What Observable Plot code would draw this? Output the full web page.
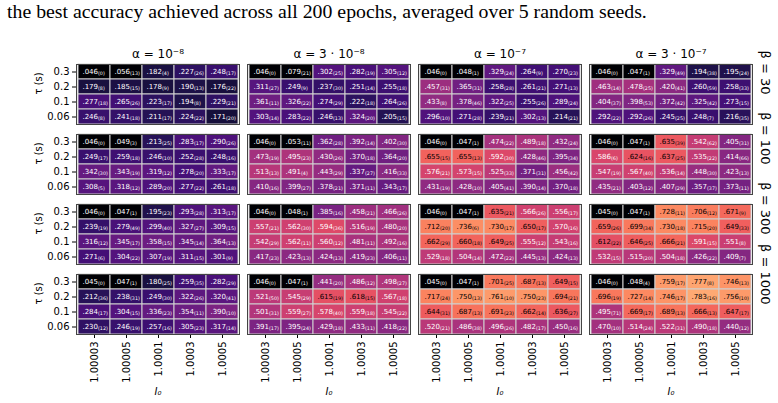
<!DOCTYPE html>
<html>
<head>
<meta charset="utf-8">
<script src="https://cdn.jsdelivr.net/npm/d3@7"></script>
<script src="https://cdn.jsdelivr.net/npm/@observablehq/plot@0.6"></script>
<style>
  body { margin: 0; background: #fff; }
  #caption {
    font-family: "Liberation Serif", "Times New Roman", serif;
    font-size: 18px;
    height: 24px;
    line-height: 22px;
    padding-left: 7px;
    white-space: nowrap;
    color: #000;
  }
</style>
</head>
<body>
<div id="caption"><span id="captionText">the best accuracy achieved across all 200 epochs, averaged over 5 random seeds.</span></div>
<div id="chart"></div>
<script>
// Grid axes
const alphas = ["1e-8", "3e-8", "1e-7", "3e-7"];
const alphaLabels = ["α = 10⁻⁸", "α = 3 · 10⁻⁸", "α = 10⁻⁷", "α = 3 · 10⁻⁷"];
const betas = [30, 100, 300, 1000];
const taus = [0.3, 0.2, 0.1, 0.06];
const I0s = ["1.00003", "1.00005", "1.0001", "1.0003", "1.0005"];

// Mean best accuracy, indexed [alpha][tau][I0], one array per beta
const meanB30 = [
  [[.046, .056, .182, .227, .248], [.179, .185, .178, .190, .176], [.277, .265, .223, .194, .229], [.246, .241, .211, .224, .171]],
  [[.046, .079, .302, .282, .305], [.311, .249, .237, .251, .255], [.361, .326, .274, .222, .264], [.303, .283, .246, .324, .205]],
  [[.046, .048, .329, .264, .270], [.457, .365, .258, .261, .271], [.433, .378, .322, .255, .289], [.296, .271, .239, .302, .214]],
  [[.046, .047, .329, .194, .195], [.463, .478, .420, .260, .258], [.404, .398, .372, .325, .273], [.292, .292, .245, .248, .216]]
];
const meanB100 = [
  [[.046, .049, .213, .283, .290], [.249, .259, .246, .252, .248], [.342, .343, .319, .278, .333], [.308, .318, .289, .277, .261]],
  [[.046, .053, .362, .392, .402], [.473, .495, .430, .370, .364], [.513, .491, .443, .337, .416], [.410, .399, .378, .371, .343]],
  [[.046, .047, .474, .489, .432], [.655, .655, .592, .428, .395], [.576, .573, .525, .371, .456], [.431, .428, .405, .390, .370]],
  [[.046, .047, .635, .542, .405], [.586, .624, .637, .535, .414], [.547, .567, .536, .448, .423], [.435, .403, .407, .357, .373]]
];
const meanB300 = [
  [[.046, .047, .195, .293, .313], [.239, .279, .299, .327, .309], [.316, .345, .358, .345, .364], [.271, .304, .307, .311, .301]],
  [[.046, .048, .385, .458, .466], [.557, .562, .594, .516, .480], [.542, .562, .560, .481, .492], [.417, .423, .424, .419, .406]],
  [[.046, .047, .635, .566, .556], [.712, .736, .730, .650, .570], [.662, .660, .649, .555, .543], [.529, .504, .472, .445, .424]],
  [[.045, .047, .728, .706, .671], [.659, .699, .730, .715, .649], [.612, .646, .666, .591, .551], [.532, .515, .504, .426, .409]]
];
const meanB1000 = [
  [[.045, .047, .180, .259, .282], [.212, .238, .249, .322, .320], [.284, .304, .336, .354, .390], [.230, .246, .257, .305, .317]],
  [[.046, .047, .441, .486, .498], [.521, .545, .615, .618, .567], [.501, .559, .578, .559, .545], [.391, .395, .429, .433, .418]],
  [[.045, .047, .701, .687, .649], [.717, .750, .761, .750, .694], [.644, .687, .691, .662, .636], [.520, .486, .496, .482, .450]],
  [[.046, .048, .759, .777, .746], [.696, .727, .746, .783, .756], [.495, .669, .689, .666, .647], [.470, .514, .522, .490, .440]]
];

// Standard deviation across seeds, in thousandths, same layout
const sdB30 = [
  [[0, 13, 4, 26, 17], [8, 15, 9, 13, 22], [18, 26, 17, 8, 21], [8, 18, 17, 22, 20]],
  [[0, 21, 25, 19, 12], [27, 9, 30, 14, 18], [11, 22, 29, 18, 26], [14, 22, 13, 20, 15]],
  [[0, 1, 24, 9, 23], [31, 31, 28, 21, 13], [8, 46, 25, 26, 24], [10, 28, 21, 13, 21]],
  [[0, 1, 49, 38, 24], [14, 25, 41, 59, 33], [37, 53, 42, 42, 15], [22, 26, 25, 7, 35]]
];
const sdB100 = [
  [[0, 3, 25, 17, 26], [17, 18, 10, 28, 16], [30, 19, 12, 20, 17], [5, 12, 20, 22, 18]],
  [[0, 11, 28, 14, 30], [19, 23, 26, 18, 20], [13, 4, 29, 27, 33], [16, 27, 21, 11, 17]],
  [[0, 1, 22, 18, 24], [15, 13, 30, 46, 34], [21, 15, 33, 31, 42], [19, 10, 41, 14, 18]],
  [[0, 1, 39, 62, 31], [6, 16, 25, 22, 66], [19, 40, 14, 30, 13], [21, 12, 29, 37, 11]]
];
const sdB300 = [
  [[0, 1, 23, 28, 17], [19, 49, 40, 27, 15], [12, 17, 15, 14, 13], [6, 22, 19, 15, 9]],
  [[0, 1, 16, 21, 26], [21, 30, 36, 19, 20], [29, 11, 12, 11, 16], [23, 13, 13, 23, 11]],
  [[0, 1, 21, 26, 17], [20, 6, 17, 17, 16], [29, 18, 25, 12, 16], [18, 14, 22, 13, 13]],
  [[0, 1, 11, 12, 9], [26, 34, 18, 20, 33], [22, 25, 21, 15, 8], [15, 20, 18, 22, 7]]
];
const sdB1000 = [
  [[0, 1, 25, 35, 29], [36, 31, 30, 26, 41], [17, 15, 23, 11, 10], [12, 19, 16, 23, 14]],
  [[0, 1, 20, 12, 27], [50, 29, 19, 15, 18], [31, 27, 40, 18, 22], [17, 24, 18, 11, 22]],
  [[0, 1, 25, 13, 15], [24, 13, 10, 23, 21], [31, 13, 23, 14, 27], [21, 38, 26, 17, 16]],
  [[0, 4, 17, 8, 13], [19, 14, 17, 16, 10], [71, 17, 13, 13, 17], [10, 24, 31, 18, 12]]
];

const means = [meanB30, meanB100, meanB300, meanB1000];
const sds = [sdB30, sdB100, sdB300, sdB1000];

// Fit the caption line to its column width
const captionEl = document.getElementById("captionText");
const captionWidth = 640;
captionEl.parentNode.style.fontSize = (18 * captionWidth / captionEl.getBoundingClientRect().width) + "px";

// Flatten into one row per cell
const rows = [];
betas.forEach((beta, bi) =>
  alphas.forEach((alpha, ai) =>
    taus.forEach((tau, ti) =>
      I0s.forEach((i0, ii) =>
        rows.push({beta, alpha, tau, i0, mean: means[bi][ai][ti][ii], sd: sds[bi][ai][ti][ii]})))));

const fmtMean = v => d3.format(".3f")(v).replace(/^0/, "");
const threshold = 0.6; // dark text on light cells
const darkCells = rows.filter(d => d.mean < threshold);
const lightCells = rows.filter(d => d.mean >= threshold);

const cellPos = {fx: "alpha", fy: "beta", x: "i0", y: "tau"};
const valueText = (data, fill) => Plot.text(data, {
  ...cellPos, text: d => fmtMean(d.mean), textAnchor: "end", dx: 3.5, fontSize: 7, fill
});
const sdText = (data, fill) => Plot.text(data, {
  ...cellPos, text: d => `(${d.sd})`, textAnchor: "start", dx: 3.5, dy: 1.6, fontSize: 4.8, fill
});

const plot = Plot.plot({
  width: 778,
  height: 379,
  marginTop: 40,
  marginBottom: 68,
  marginLeft: 74,
  marginRight: 24,
  style: {fontFamily: "DejaVu Sans, sans-serif", fontSize: "10px", color: "#000", background: "#fff"},
  fx: {domain: alphas, padding: 0.045, axis: null},
  fy: {domain: betas, padding: 0.14, axis: null},
  x: {domain: I0s, padding: 0, label: null, tickRotate: -90, tickSize: 4, tickPadding: 3},
  y: {domain: taus, padding: 0, label: null, tickSize: 4, tickPadding: 3, tickFormat: d => String(d)},
  color: {type: "linear", scheme: "magma", domain: [0.08, 0.94]},
  marks: [
    Plot.cell(rows, {...cellPos, fill: "mean", stroke: "#cfcfcf", strokeWidth: 1}),
    valueText(darkCells, "white"),
    sdText(darkCells, "white"),
    valueText(lightCells, "black"),
    sdText(lightCells, "black"),
    Plot.frame({stroke: "#444", strokeWidth: 1}),
    // column titles
    Plot.text(alphas.map((alpha, i) => ({alpha, beta: betas[0], label: alphaLabels[i]})), {
      fx: "alpha", fy: "beta", frameAnchor: "top", dy: -15, text: "label", fontSize: 12
    }),
    // row titles
    Plot.text(betas.map(beta => ({alpha: alphas[3], beta})), {
      fx: "alpha", fy: "beta", frameAnchor: "right", dx: 13, rotate: 90, text: d => `β = ${d.beta}`, fontSize: 13
    }),
    // y axis title on the left column
    Plot.text(betas.map(beta => ({alpha: alphas[0], beta})), {
      fx: "alpha", fy: "beta", frameAnchor: "left", dx: -38, rotate: -90, text: () => "τ (s)", fontSize: 10
    }),
    // x axis title on the bottom row
    Plot.text(alphas.map(alpha => ({alpha, beta: betas[3]})), {
      fx: "alpha", fy: "beta", frameAnchor: "bottom", dy: 60, text: () => "I₀", fontSize: 10, fontStyle: "italic"
    })
  ]
});
document.getElementById("chart").append(plot);
</script>
</body>
</html>
